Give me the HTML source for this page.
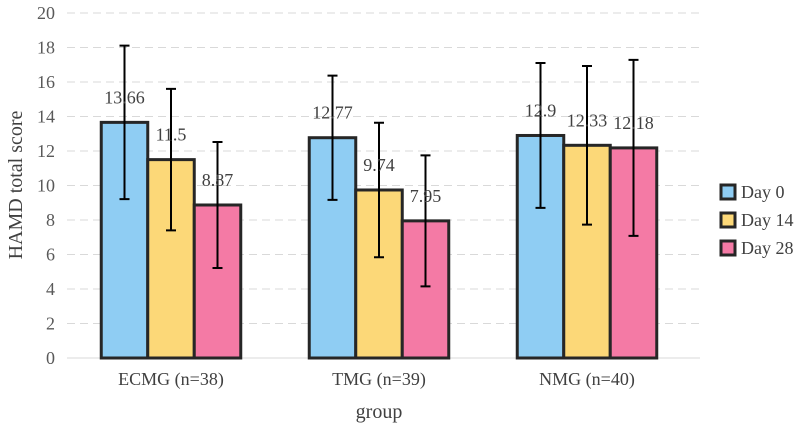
<!DOCTYPE html>
<html><head><meta charset="utf-8"><style>
body{margin:0;background:#fff}
text{font-family:"Liberation Serif","DejaVu Serif",serif}
</style></head><body>
<svg id="c" width="800" height="427"></svg>
<script>
const categories=["ECMG (n=38)","TMG (n=39)","NMG (n=40)"];
const seriesNames=["Day 0","Day 14","Day 28"];
const day0=[13.66,12.77,12.9];
const day14=[11.5,9.74,12.33];
const day28=[8.87,7.95,12.18];
const err0=[4.45,3.6,4.2];
const err14=[4.1,3.9,4.6];
const err28=[3.65,3.8,5.1];
const yTicks=[0,2,4,6,8,10,12,14,16,18,20];
const colors=["#8fcdf3","#fcd878","#f47aa5"];
const NS="http://www.w3.org/2000/svg";
const svg=document.getElementById("c");
const x0=67,x1=691,yb=358,yt=13,ymax=20;
const FF='"Liberation Serif", serif';
const y=v=>yb-(v/ymax)*(yb-yt);
const gw=(x1-x0)/categories.length, bw=46.5;
function mk(t,a,p){const e=document.createElementNS(NS,t);for(const k in a)e.setAttribute(k,a[k]);if(t==="text")e.setAttribute("font-family",FF);(p||svg).appendChild(e);return e;}
yTicks.forEach(t=>{
 if(t>0){const l=mk("line",{x1:x0,x2:700,y1:y(t),y2:y(t),stroke:"#d9d9d9","stroke-width":1,"stroke-dasharray":"8,5"});
 
 }
 const tx=mk("text",{x:55,y:y(t)+6,"text-anchor":"end","font-size":18,fill:"#595959"});tx.textContent=t;
 
 
});
const ax=mk("line",{x1:x0,x2:700,y1:yb,y2:yb,stroke:"#d9d9d9","stroke-width":1});


const vals=[day0,day14,day28],errs=[err0,err14,err28];
categories.forEach((c,i)=>{
 const gs=x0+i*gw+(gw-3*bw)/2;
 vals.forEach((s,j)=>{
  const bx=gs+j*bw,v=s[i],e=errs[j][i],cx=bx+bw/2;
  const r=mk("rect",{x:bx,y:y(v),width:bw,height:yb-y(v),fill:colors[j],stroke:"#262626","stroke-width":3});
  
  
  const eb=mk("path",{d:`M${cx},${y(v+e)}V${y(v-e)}M${cx-5},${y(v+e)}H${cx+5}M${cx-5},${y(v-e)}H${cx+5}`,stroke:"#000","stroke-width":2,fill:"none"});
  
  
  const lt=mk("text",{x:cx,y:y(v)-19,"text-anchor":"middle","font-size":18,fill:"#404040"});lt.textContent=v;
  
  
 });
 const ct=mk("text",{x:x0+i*gw+gw/2,y:385,"text-anchor":"middle","font-size":18,fill:"#404040"});ct.textContent=c;
 
 
});
const xt=mk("text",{x:379,y:418,"text-anchor":"middle","font-size":20,fill:"#404040"});xt.textContent="group";


const yt2=mk("text",{x:0,y:0,"text-anchor":"middle","font-size":20,fill:"#404040",transform:"translate(22,185) rotate(-90)"});yt2.textContent="HAMD total score";


seriesNames.forEach((n,j)=>{
 const ly=192+j*28;
 const g=mk("g",{});
 
 
 mk("rect",{x:721,y:ly-7,width:14,height:14,fill:colors[j],stroke:"#262626","stroke-width":3},g);
 const t=mk("text",{x:741,y:ly+6,"font-size":18,fill:"#404040"},g);t.textContent=n;
});
</script>
</body></html>
